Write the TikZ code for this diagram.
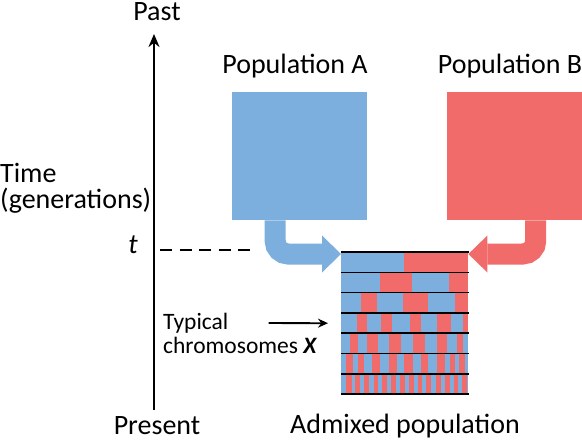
\documentclass[tikz,border=0pt]{standalone}
\usepackage{fontspec}
\setmainfont{Carlito}
\usepackage{tikz}
\usetikzlibrary{arrows.meta}
\definecolor{PopBlue}{HTML}{7CAFDD}
\definecolor{PopRed}{HTML}{F16B6B}

\begin{document}
\begin{tikzpicture}[x=1pt,y=-1pt,
  lbl/.style={font=\fontsize{28}{26}\selectfont,inner sep=0pt},
  smalllbl/.style={font=\fontsize{23.5}{24}\selectfont,inner sep=0pt,anchor=west},
  popbox/.style={minimum width=135pt,minimum height=128pt,anchor=north west,inner sep=0pt},
  flow/.style={line width=21pt,rounded corners=13pt,-{Triangle[width=37pt,length=19pt,line width=0pt]}},
  chromline/.style={line width=1.5pt}]
\useasboundingbox (0,0) rectangle (582,440);
% time axis
\node[lbl] (past) at (157,12) {Past};
\node[lbl] (present) at (157,426) {Present};
\node[lbl,anchor=west,align=left] (time) at (0,188) {Time\\(generations)};
\coordinate (axisbot) at (154,410);
\coordinate (axistop) at (154,34);
\draw[line width=2.4pt,-{Stealth[length=13pt,width=11pt]}] (axisbot) -- (axistop);
\node[lbl,font=\itshape\fontsize{28}{30}\selectfont] (t) at (133,245) {t};
\coordinate (tstart) at (160,250);
\coordinate (tend) at (251,250);
\draw[line width=2pt,dash pattern=on 12pt off 7.5pt] (tstart) -- (tend);
% source populations
\node[popbox,fill=PopBlue] (popA) at (232,92) {};
\node[popbox,fill=PopRed] (popB) at (447,92) {};
\node[lbl] (labelA) at (295,66) {Population A};
\node[lbl] (labelB) at (510,66) {Population B};
% admixed block
\node[minimum width=127pt,minimum height=142pt,anchor=north west,inner sep=0pt] (admix) at (341,252) {};
\draw[flow,PopBlue] ([xshift=-24.5pt]popA.south) |- ([yshift=-2pt]admix.north west);
\draw[flow,PopRed] ([xshift=21pt]popB.south) |- ([yshift=-2pt]admix.north east);
\foreach \r/\reds in {0/{404/468},
    1/{380/412,449/468},
    2/{361/377,403/428,455/468},
    3/{357/367,381/392,410/421,437/451,463/468},
    4/{350/358,367/378,389/401,413/425,437/447,457/463},
    5/{346/353,358/364,372/380,389/397,404/413,421/428,437/445,450/455,459/465},
    6/{346/352,355/360,364/369,374/378,382/387,391/396,400/405,409/414,418/422,426/431,436/441,445/450,454/458,462/467}} {
  \fill[PopBlue] (341,252+20.3*\r) rectangle (468,272.3+20.3*\r);
  \foreach \a/\b in \reds
    \fill[PopRed] (\a,252+20.3*\r) rectangle (\b,272.3+20.3*\r);
}
\foreach \r in {0,...,7}
  \draw[chromline] (341,252+20.3*\r) -- (469,252+20.3*\r);
\node[lbl] (admixlbl) at (405,426) {Admixed population};
% chromosome label
\node[smalllbl] (typical) at (163,323) {Typical};
\node[smalllbl] (chrom) at (163,345) {chromosomes \textbf{\textit{X}}};
\draw[line width=1.8pt,-{Stealth[length=10pt,width=9pt]},shorten <=40pt,shorten >=13pt] (typical.east) -- (admix.west);
\end{tikzpicture}
\end{document}
